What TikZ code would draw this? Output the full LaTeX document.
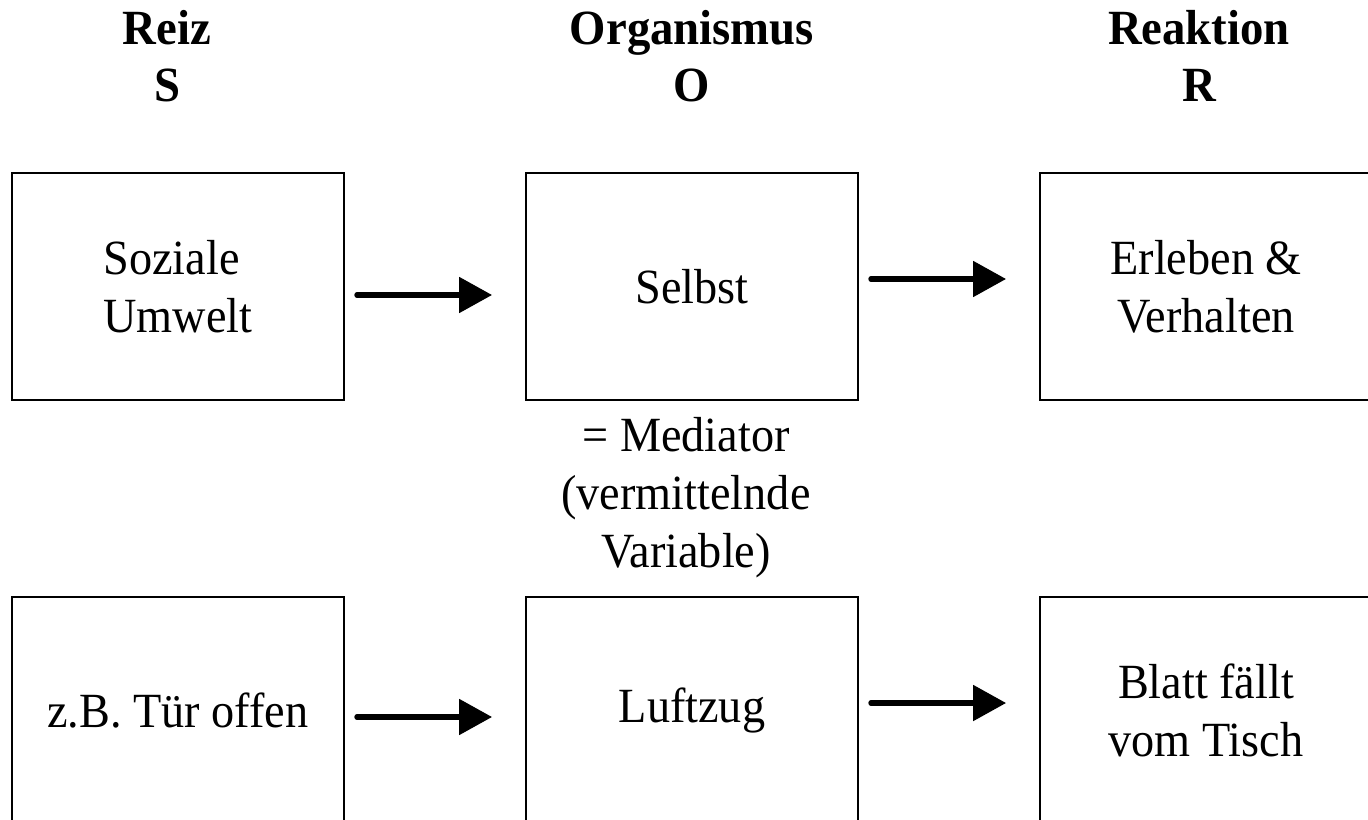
\documentclass[tikz,border=0pt]{standalone}
\usepackage{fontspec}
\setmainfont[FakeStretch=0.94]{Liberation Serif}
\newfontfamily\kopffont[FakeStretch=0.95]{Liberation Serif}
\usetikzlibrary{arrows.meta}
\tikzset{
  kasten/.style={draw, line width=1.1pt, minimum width=6.64cm, minimum height=4.54cm,
    inner sep=0pt, align=center, font=\fontsize{28}{33}\selectfont},
  kopf/.style={anchor=base, align=center, font=\kopffont\bfseries\fontsize{28}{32.5}\selectfont},
  pfeil/.style={line width=3pt, line cap=round, -{Triangle[length=0.66cm,width=0.7cm]},
    shorten <=0.24cm, shorten >=0.66cm}
}
\begin{document}
\begin{tikzpicture}[x=0.02cm,y=-0.02cm]
  \useasboundingbox (0,0) rectangle (1368,820);
  \clip (0,0) rectangle (1368,820);
  % Kopfzeile S - O - R
  \node[kopf] (reiz) at (167,102) {Reiz\\S};
  \node[kopf] (org) at (692,102) {Organismus\\O};
  \node[kopf] (reak) at (1199,102) {Reaktion\\R};
  % obere Reihe
  \node[kasten, align=left] (s1) at (178,286.5) {Soziale\\Umwelt};
  \node[kasten] (o1) at (692,286.5) {Selbst};
  \node[kasten] (r1) at (1206,286.5) {Erleben \&\\Verhalten};
  \node[anchor=base, align=center, font=\fontsize{28}{33}\selectfont] (med) at (686,567)
    {= Mediator\\(vermittelnde\\Variable)};
  % untere Reihe
  \node[kasten] (s2) at (178,710.5) {z.B. Tür offen};
  \node[kasten] (o2) at (692,710.5) {Luftzug};
  \node[kasten] (r2) at (1206,710.5) {Blatt fällt\\vom Tisch};
  \draw[pfeil] ([yshift=-0.17cm]s1.east) -- ([yshift=-0.17cm]o1.west);
  \draw[pfeil] ([yshift=0.15cm]o1.east) -- ([yshift=0.15cm]r1.west);
  \draw[pfeil] ([yshift=-0.13cm]s2.east) -- ([yshift=-0.13cm]o2.west);
  \draw[pfeil] ([yshift=0.15cm]o2.east) -- ([yshift=0.15cm]r2.west);
\end{tikzpicture}
\end{document}
